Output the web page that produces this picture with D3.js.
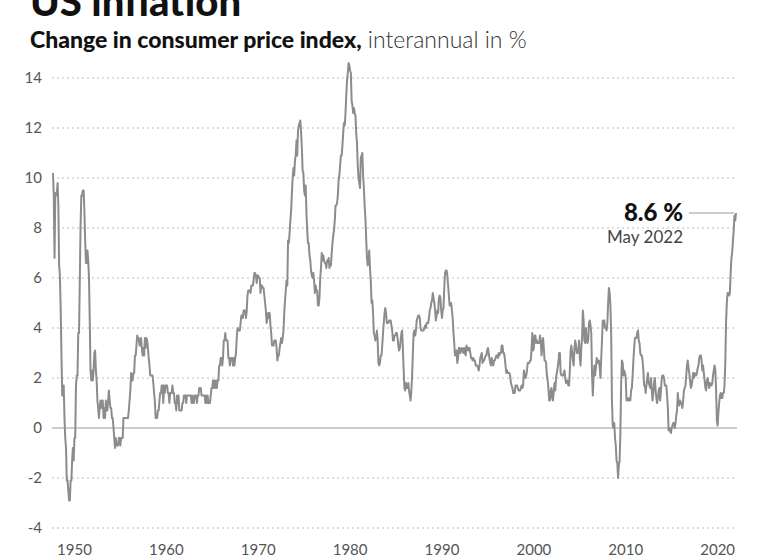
<!DOCTYPE html>
<html><head><meta charset="utf-8">
<script src="https://cdn.jsdelivr.net/npm/d3@7"></script>
<style>
html,body{margin:0;padding:0;background:#fff;}
svg{display:block;font-family:Lato,"Open Sans",sans-serif;}
</style></head>
<body><svg id="c" width="768" height="560"></svg>
<script>
// Monthly CPI year-over-year change (%), January 1948 – May 2022
const startYear = 1948;
const cpi1940s = [
 10.2,9.3,6.8,9.4,9.3,9.4,9.8,8.9,6.5,6.1,4.8,3.0,
 1.3,1.3,1.7,0.4,-0.4,-0.8,-2.1,-2.1,-2.5,-2.9,-2.9,-2.1];
const cpi1950s = [
 -2.1,-1.3,-0.8,-1.3,-0.4,-0.4,1.7,2.1,2.1,3.8,3.8,5.9,
 8.1,9.3,9.3,9.5,9.5,8.7,7.5,6.6,6.6,7.1,6.7,6.0,
 4.3,2.3,1.9,2.3,1.9,2.3,3.0,3.1,2.3,1.9,1.1,0.8,
 0.4,0.8,1.1,0.8,1.1,1.1,0.4,0.8,0.4,1.1,0.7,0.7,
 1.1,1.5,1.1,0.8,0.8,0.4,0.4,0.0,-0.4,-0.8,-0.4,-0.7,
 -0.7,-0.7,-0.4,-0.4,-0.7,-0.4,-0.4,-0.4,0.4,0.4,0.4,0.4,
 0.4,0.4,0.4,0.7,1.1,1.5,2.2,1.9,1.9,2.2,2.2,2.9,
 2.9,3.3,3.7,3.6,3.6,3.3,3.3,3.6,3.2,2.9,3.2,2.9,
 3.6,3.2,3.6,3.5,3.2,2.8,2.5,2.1,2.1,2.1,2.1,1.8,
 1.4,1.1,0.4,0.4,0.4,0.7,0.7,1.1,1.4,1.4,1.7,1.7];
const cpi1960s = [
 1.0,1.7,1.4,1.7,1.7,1.7,1.4,1.4,1.0,1.4,1.4,1.4,
 1.7,1.4,1.4,1.0,1.0,0.7,1.3,1.0,1.3,0.7,0.7,0.7,
 0.7,1.0,1.0,1.3,1.3,1.3,1.0,1.3,1.3,1.3,1.3,1.3,
 1.3,1.0,1.3,1.0,1.0,1.3,1.3,1.3,1.0,1.3,1.3,1.6,
 1.6,1.6,1.3,1.3,1.3,1.3,1.3,1.0,1.3,1.0,1.3,1.0,
 1.0,1.0,1.3,1.6,1.6,1.9,1.6,1.9,1.6,1.9,1.6,1.9,
 1.9,2.5,2.5,2.8,2.8,2.5,2.8,3.5,3.5,3.8,3.5,3.5,
 3.5,2.8,2.8,2.5,2.8,2.8,2.8,2.5,2.8,2.5,2.8,3.0,
 3.6,4.0,3.9,3.9,3.9,4.2,4.5,4.5,4.4,4.7,4.7,4.7,
 4.4,4.7,5.3,5.5,5.5,5.5,5.4,5.7,5.7,5.7,5.9,6.2];
const cpi1970s = [
 6.2,6.1,5.8,6.1,6.1,6.0,6.0,5.4,5.7,5.7,5.6,5.6,
 5.3,5.0,4.7,4.2,4.4,4.6,4.4,4.6,4.1,3.8,3.3,3.3,
 3.3,3.5,3.5,3.5,3.2,2.7,2.9,2.9,3.2,3.4,3.6,3.4,
 3.6,3.9,4.6,5.1,5.5,5.9,5.7,7.5,7.4,7.8,8.3,8.7,
 9.4,10.0,10.4,10.1,10.7,10.9,11.5,10.9,11.9,12.1,12.2,12.3,
 11.8,11.2,10.3,10.2,9.5,9.3,9.7,8.6,7.9,7.4,7.4,6.9,
 6.7,6.3,6.1,6.0,6.2,5.9,5.4,5.7,5.5,5.5,4.9,4.9,
 5.2,6.0,6.4,7.0,6.7,6.9,6.7,6.6,6.6,6.4,6.7,6.7,
 6.8,6.4,6.6,6.5,7.0,7.4,7.7,7.9,8.3,8.9,8.9,9.0,
 9.3,9.9,10.1,10.5,10.9,10.9,11.3,11.8,12.2,12.1,12.6,13.3];
const cpi1980s = [
 13.9,14.2,14.6,14.5,14.3,14.2,13.1,12.9,12.6,12.8,12.6,12.5,
 11.8,11.4,10.5,10.0,9.8,9.6,10.8,10.9,11.0,10.1,9.6,8.9,
 8.4,7.6,6.8,6.5,6.7,7.1,6.4,5.9,5.0,5.1,4.6,3.8,
 3.7,3.5,3.6,3.9,3.5,2.6,2.5,2.6,2.9,2.9,3.3,3.8,
 4.2,4.6,4.8,4.6,4.2,4.2,4.2,4.3,4.3,4.3,4.1,3.9,
 3.5,3.5,3.7,3.7,3.8,3.8,3.6,3.3,3.1,3.2,3.5,3.8,
 3.9,3.1,2.3,1.6,1.5,1.8,1.6,1.6,1.8,1.5,1.3,1.1,
 1.5,2.1,3.0,3.8,3.9,3.7,3.9,4.3,4.4,4.5,4.5,4.4,
 4.0,3.9,3.9,3.9,3.9,4.0,4.1,4.0,4.2,4.2,4.2,4.4,
 4.7,4.8,5.0,5.1,5.4,5.2,5.0,4.7,4.3,4.5,4.7,4.6];
const cpi1990s = [
 5.2,5.3,5.2,4.7,4.4,4.7,4.8,5.6,6.2,6.3,6.3,6.1,
 5.7,5.3,4.9,4.9,5.0,4.7,4.4,3.8,3.4,2.9,3.0,3.1,
 2.6,2.8,3.2,3.2,3.0,3.1,3.2,3.1,3.0,3.2,3.0,2.9,
 3.3,3.2,3.1,3.2,3.2,3.0,2.8,2.8,2.7,2.8,2.7,2.7,
 2.5,2.5,2.5,2.4,2.3,2.5,2.8,2.9,3.0,2.6,2.7,2.7,
 2.8,2.9,2.9,3.1,3.2,3.0,2.8,2.6,2.5,2.8,2.6,2.5,
 2.7,2.7,2.8,2.9,2.9,2.8,3.0,2.9,3.0,3.0,3.3,3.3,
 3.0,3.0,2.8,2.5,2.2,2.3,2.2,2.2,2.2,2.1,1.8,1.7,
 1.6,1.4,1.4,1.4,1.7,1.7,1.7,1.6,1.5,1.5,1.5,1.6,
 1.7,1.6,1.7,2.3,2.1,2.0,2.1,2.3,2.6,2.6,2.6,2.7];
const cpi2000s = [
 2.7,3.2,3.8,3.1,3.2,3.7,3.7,3.4,3.5,3.4,3.4,3.4,
 3.7,3.5,2.9,3.3,3.6,3.2,2.7,2.7,2.6,2.1,1.9,1.6,
 1.1,1.1,1.5,1.6,1.2,1.1,1.5,1.8,1.5,2.0,2.2,2.4,
 2.6,3.0,3.0,2.2,2.1,2.1,2.1,2.2,2.3,2.0,1.8,1.9,
 1.9,1.7,1.7,2.3,3.1,3.3,3.0,2.7,2.5,3.2,3.5,3.3,
 3.0,3.0,3.1,3.5,2.8,2.5,3.2,3.6,4.7,4.3,3.5,3.4,
 4.0,3.6,3.4,3.5,4.2,4.3,4.1,3.8,2.1,1.3,2.0,2.5,
 2.1,2.4,2.8,2.6,2.7,2.7,2.4,2.0,2.8,3.5,4.3,4.1,
 4.3,4.0,4.0,3.9,4.2,5.0,5.6,5.4,4.9,3.7,1.1,0.1,
 0.0,0.2,-0.4,-0.7,-1.3,-1.4,-2.0,-1.5,-1.3,-0.2,1.8,2.7];
const cpi2010s = [
 2.6,2.1,2.3,2.2,2.0,1.1,1.2,1.1,1.1,1.2,1.1,1.5,
 1.6,2.1,2.7,3.2,3.6,3.6,3.6,3.8,3.9,3.5,3.4,3.0,
 2.9,2.9,2.7,2.3,1.7,1.7,1.4,1.7,2.0,2.2,1.8,1.7,
 1.6,2.0,1.5,1.1,1.4,1.8,2.0,1.5,1.2,1.0,1.2,1.5,
 1.6,1.1,1.5,2.0,2.1,2.1,2.0,1.7,1.7,1.7,1.3,0.8,
 -0.1,0.0,-0.1,-0.2,0.0,0.1,0.2,0.2,0.0,0.2,0.5,0.7,
 1.4,1.0,0.9,1.1,1.0,1.0,0.8,1.1,1.5,1.6,1.7,2.1,
 2.5,2.7,2.4,2.2,1.9,1.6,1.7,1.9,2.2,2.0,2.2,2.1,
 2.1,2.2,2.4,2.5,2.8,2.9,2.9,2.7,2.3,2.5,2.2,1.9,
 1.6,1.5,1.9,2.0,1.8,1.6,1.8,1.7,1.7,1.8,2.1,2.3];
const cpi2020s = [
 2.5,2.3,1.5,0.3,0.1,0.6,1.0,1.3,1.4,1.2,1.2,1.4,
 1.4,1.7,2.6,4.2,5.0,5.4,5.4,5.3,5.4,6.2,6.8,7.0,
 7.5,7.9,8.5,8.3,8.6];

const yTicks = [-4,-2,0,2,4,6,8,10,12,14];
const xTickYears = [1950,1960,1970,1980,1990,2000,2010,2020];
const titleText = "US inflation";
const subtitleBold = "Change in consumer price index,";
const subtitleLight = " interannual in %";
const lastLabel = "8.6 %";
const lastDate = "May 2022";

const values = [].concat(cpi1940s,cpi1950s,cpi1960s,cpi1970s,cpi1980s,cpi1990s,cpi2000s,cpi2010s,cpi2020s);
const data = values.map((v,i)=>({t:startYear+i/12, v}));
const lastT = data[data.length-1].t;

const svg = d3.select("#c");
const x = d3.scaleLinear().domain([startYear, lastT]).range([53, 736]);
const y = d3.scaleLinear().domain([-4, 14]).range([528, 78]);

// title
svg.append("text").attr("x",30).attr("y",16)
  .style("font-size","40px").style("font-weight","900").attr("fill","#111").text(titleText);
const st = svg.append("text").attr("x",30).attr("y",48).style("font-size","23px").attr("fill","#111");
st.append("tspan").style("font-weight","900").text(subtitleBold);
st.append("tspan").style("font-weight","300").attr("fill","#333").text(subtitleLight);

// grid
const grid = svg.append("g");
grid.selectAll("line").data(yTicks.filter(d=>d!==0)).join("line")
  .attr("x1",52).attr("x2",737).attr("y1",d=>y(d)).attr("y2",d=>y(d))
  .attr("stroke","#bdbdbd").attr("stroke-width",1).attr("stroke-dasharray","2,3");

// y axis labels
const yAxis = d3.axisLeft(y).tickValues(yTicks).tickSize(0).tickPadding(0).tickFormat(d=>d);
const gy = svg.append("g").attr("transform","translate(42,0)").call(yAxis);
gy.select(".domain").remove();
gy.selectAll("text").style("font-size","15px").style("font-family","Lato,sans-serif").attr("fill","#555");

// x axis labels
const xAxis = d3.axisBottom(x).tickValues(xTickYears.map(d=>d+0.5)).tickSize(0).tickPadding(0).tickFormat(d=>Math.floor(d));
const gx = svg.append("g").attr("transform","translate(-2,544)").call(xAxis);
gx.select(".domain").remove();
gx.selectAll("text").style("font-size","15px").style("font-family","Lato,sans-serif").attr("fill","#555");

// zero line
svg.append("line").attr("x1",52).attr("x2",737).attr("y1",y(0)).attr("y2",y(0))
  .attr("stroke","#9a9a9a").attr("stroke-width",1);

// series
svg.append("path").datum(data)
  .attr("d", d3.line().x(d=>x(d.t)).y(d=>y(d.v)))
  .attr("fill","none").attr("stroke","#8c8c8c").attr("stroke-width",2).attr("stroke-linejoin","round");

// annotation
const last = data[data.length-1];
svg.append("line").attr("x1",689).attr("x2",x(last.t)-2).attr("y1",y(last.v)).attr("y2",y(last.v))
  .attr("stroke","#9a9a9a").attr("stroke-width",1);
svg.append("text").attr("x",683).attr("y",y(last.v)+8).attr("text-anchor","end")
  .style("font-size","24px").style("font-weight","900").attr("fill","#111").text(lastLabel);
svg.append("text").attr("x",683).attr("y",y(last.v)+30).attr("text-anchor","end")
  .style("font-size","17px").style("font-weight","400").attr("fill","#444").text(lastDate);
</script></body></html>
